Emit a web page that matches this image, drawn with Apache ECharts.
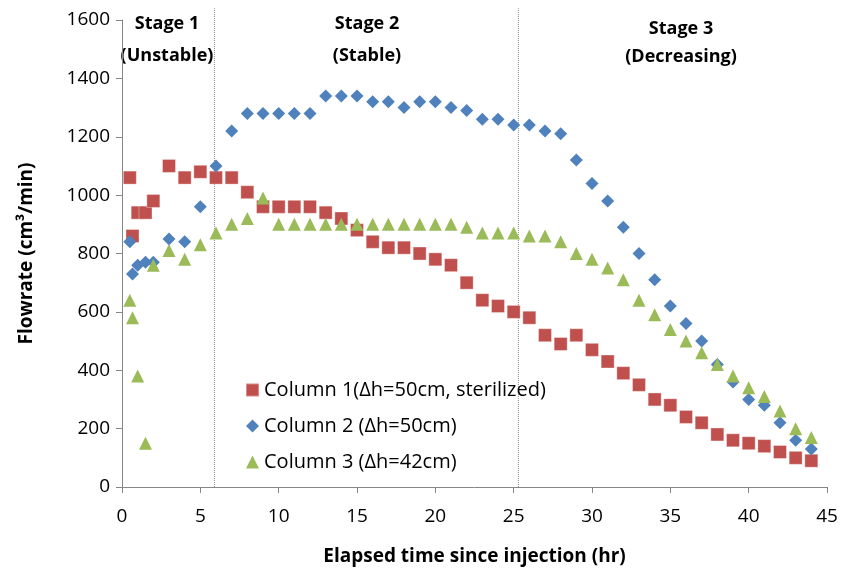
<!DOCTYPE html>
<html>
<head>
<meta charset="utf-8">
<script src="https://cdn.jsdelivr.net/npm/echarts@6/dist/echarts.min.js"></script>
<style>
  html, body { margin: 0; padding: 0; background: #fff; }
  #chart { width: 842px; height: 576px; }
</style>
</head>
<body>
<div id="chart"></div>
<script>
/* elapsed time (hr) */
const HOURS = [0.5, 0.67, 1, 1.5, 2, 3, 4, 5, 6, 7, 8, 9, 10, 11, 12, 13, 14, 15, 16, 17, 18, 19, 20,
  21, 22, 23, 24, 25, 26, 27, 28, 29, 30, 31, 32, 33, 34, 35, 36, 37, 38, 39, 40, 41, 42, 43, 44]

/* flowrate (cm3/min) */
const COL1 = [1060, 860, 940, 940, 980, 1100, 1060, 1080, 1060, 1060, 1010, 960, 960, 960, 960, 940, 920, 880, 840, 820, 820, 800, 780,
  760, 700, 640, 620, 600, 580, 520, 490, 520, 470, 430, 390, 350, 300, 280, 240, 220, 180, 160, 150, 140, 120, 100, 90]
const COL2 = [840, 730, 760, 770, 770, 850, 840, 960, 1100, 1220, 1280, 1280, 1280, 1280, 1280, 1340, 1340, 1340, 1320, 1320, 1300, 1320, 1320,
  1300, 1290, 1260, 1260, 1240, 1240, 1220, 1210, 1120, 1040, 980, 890, 800, 710, 620, 560, 500, 420, 360, 300, 280, 220, 160, 130]
const COL3 = [640, 580, 380, 150, 760, 810, 780, 830, 870, 900, 920, 990, 900, 900, 900, 900, 900, 900, 900, 900, 900, 900, 900,
  900, 890, 870, 870, 870, 860, 860, 840, 800, 780, 750, 710, 640, 590, 540, 500, 460, 420, 380, 340, 310, 260, 200, 170]

const NAMES = ['Column 1(Δh=50cm, sterilized)', 'Column 2 (Δh=50cm)', 'Column 3 (Δh=42cm)']
const STAGE_BOUNDS = [5.9, 25.3]   // 점선 경계 (hr)

const FONT = '"Open Sans", "Noto Sans", sans-serif'

const pts = arr => HOURS.map((h, i) => [h, arr[i]])

const chart = echarts.init(document.getElementById('chart'))

const boundSeries = STAGE_BOUNDS.map(b => ({
  type: 'line',
  data: [[b, 0], [b, 1640]],
  symbol: 'none',
  clip: false,
  silent: true,
  lineStyle: { color: '#8c8c8c', width: 1, type: [1, 1] },
  z: 1,
}))

const stageText = (x, y, text, lh) => ({
  type: 'text', x, y,
  style: { text, font: `bold 18px ${FONT}`, fill: '#000', align: 'center', lineHeight: lh },
})

chart.setOption({
  animation: false,
  backgroundColor: '#fff',
  textStyle: { fontFamily: FONT },
  grid: { left: 122, right: 15, top: 20, bottom: 89 },
  legend: {
    data: NAMES,
    orient: 'vertical',
    left: 240,
    top: 373,
    itemWidth: 13,
    itemHeight: 13,
    itemGap: 12,
    textStyle: { fontSize: 20, lineHeight: 24, color: '#000', fontFamily: FONT },
  },
  xAxis: {
    type: 'value',
    min: 0, max: 45, interval: 5,
    name: 'Elapsed time since injection (hr)',
    nameLocation: 'middle',
    nameGap: 60,
    nameTextStyle: { fontSize: 19, fontWeight: 'bold', color: '#000' },
    axisLine: { lineStyle: { color: '#868686' } },
    axisTick: { show: true, length: 6, lineStyle: { color: '#868686' } },
    axisLabel: { fontSize: 19, color: '#000', margin: 20 },
    splitLine: { show: false },
  },
  yAxis: {
    type: 'value',
    min: 0, max: 1600, interval: 200,
    name: 'Flowrate (cm³/min)',
    nameLocation: 'middle',
    nameGap: 86,
    nameTextStyle: { fontSize: 19, fontWeight: 'bold', color: '#000' },
    axisLine: { show: true, lineStyle: { color: '#868686' } },
    axisTick: { show: true, length: 6, lineStyle: { color: '#868686' } },
    axisLabel: { fontSize: 19, color: '#000', margin: 12, formatter: v => String(v) },
    splitLine: { show: false },
  },
  graphic: [
    stageText(167, 8, 'Stage 1\n(Unstable)', 32),
    stageText(367, 8, 'Stage 2\n(Stable)', 32),
    stageText(681, 15, 'Stage 3\n(Decreasing)', 28),
  ],
  series: [
    ...boundSeries,
    {
      name: NAMES[0], type: 'scatter', symbol: 'rect', symbolSize: 13,
      data: pts(COL1),
      itemStyle: { color: '#C0504D', borderColor: 'rgba(255,255,255,0.35)', borderWidth: 1, opacity: 1 },
      z: 2,
    },
    {
      name: NAMES[1], type: 'scatter', symbol: 'diamond', symbolSize: 13,
      data: pts(COL2),
      itemStyle: { color: '#4F81BD', opacity: 1 },
      z: 3,
    },
    {
      name: NAMES[2], type: 'scatter', symbol: 'triangle', symbolSize: 13,
      data: pts(COL3),
      itemStyle: { color: '#9BBB59', opacity: 1 },
      z: 4,
    },
  ],
})
</script>
</body>
</html>
